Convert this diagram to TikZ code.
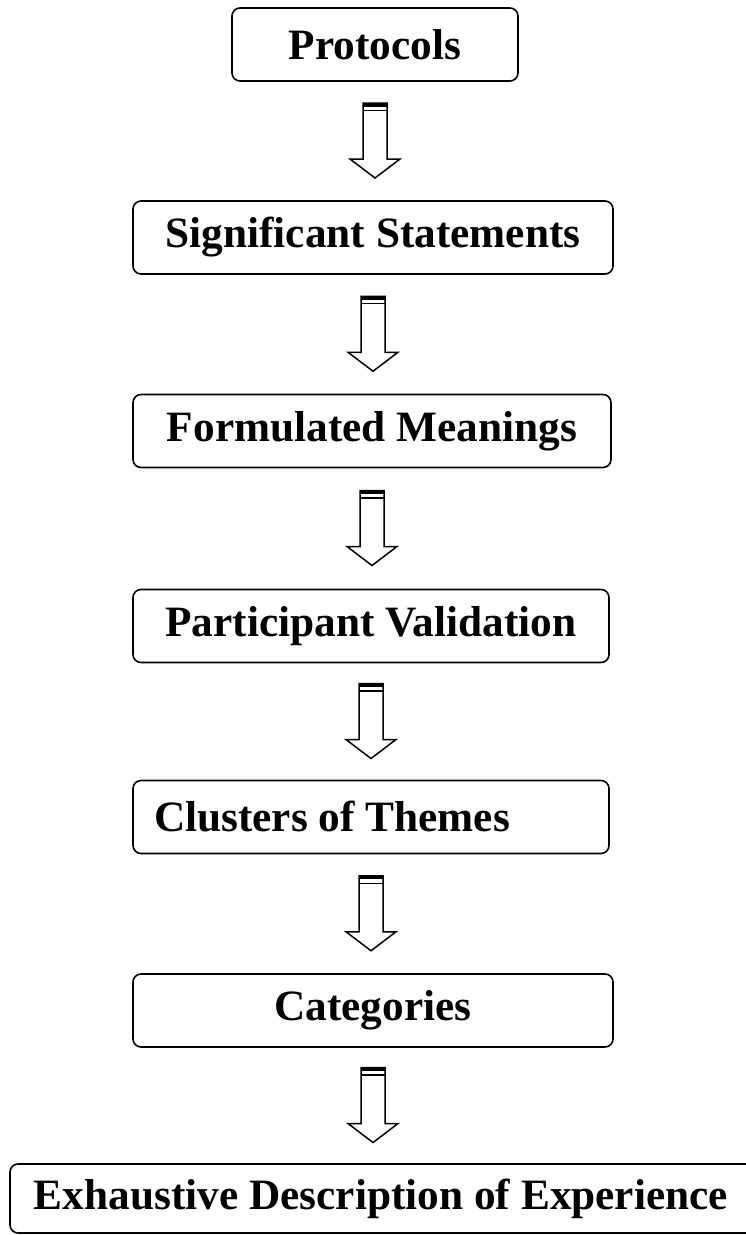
\documentclass[tikz,border=0pt]{standalone}
\usepackage{fontspec}
\setmainfont{Liberation Serif}
\usepackage{tikz}
\usetikzlibrary{calc,positioning}
\tikzset{stage/.style={draw,rounded corners=8pt,line width=1.6pt,
           minimum height=73pt,inner sep=0pt,
           font=\fontsize{43.3}{50}\selectfont\bfseries},
         arrowline/.style={line width=1.5pt,line join=miter}}
% hollow block arrow between two stages
\newcommand{\flowarrow}[2]{%
\coordinate (gap) at ($(#1.south)!0.5!(#2.north)$);
\coordinate (mid) at (#1.south |- gap);
\draw[arrowline] ($(mid)+(-12,-38)$) -- ($(mid)+(-12,18)$) -- ($(mid)+(-25,18)$)
  -- ($(mid)+(0,37)$) -- ($(mid)+(25,18)$) -- ($(mid)+(12,18)$)
  -- ($(mid)+(12,-38)$) -- cycle;
\fill ($(mid)+(-12,-38)$) rectangle ($(mid)+(12,-34.5)$);
\draw[line width=1.2pt] ($(mid)+(-12,-30.5)$) -- ($(mid)+(12,-30.5)$);}

\begin{document}
\begin{tikzpicture}[x=1pt,y=-1pt]
\useasboundingbox (0,0) rectangle (746,1235);
\node[stage,minimum width=286pt] (prot) at (375,44.5) {Protocols};
\node[stage,minimum width=480pt] (sig) at (373,237.5) {Significant Statements};
\node[stage,minimum width=478pt] (form) at (372,431) {Formulated Meanings};
\node[stage,minimum width=476pt] (part) at (371,626) {Participant Validation};
\node[stage,text width=434pt,inner xsep=21pt,align=flush left] (clus) at (371,817) {Clusters of Themes};
\node[stage,minimum width=480pt] (cat) at (373,1010.5) {Categories};
\node[stage,text width=712pt,inner xsep=24pt,align=flush left,minimum height=69pt] (exh) at (390,1198.5) {Exhaustive Description of Experience};
\flowarrow{prot}{sig}
\flowarrow{sig}{form}
\flowarrow{form}{part}
\flowarrow{part}{clus}
\flowarrow{clus}{cat}
\flowarrow{cat}{exh}
\end{tikzpicture}
\end{document}
